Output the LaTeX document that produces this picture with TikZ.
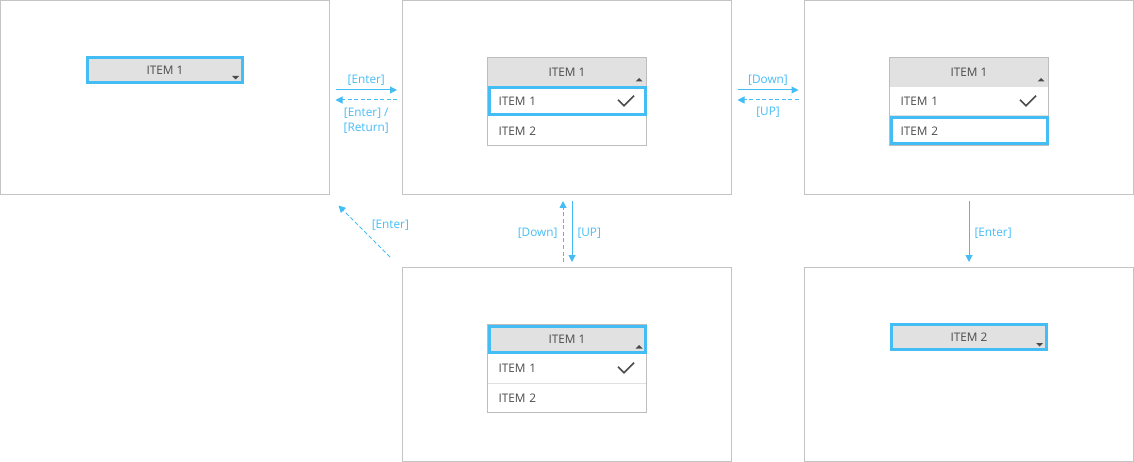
\documentclass[tikz,border=0pt]{standalone}
\usepackage{fontspec}
\setmainfont{Open Sans}
\usetikzlibrary{arrows.meta,positioning}

\definecolor{focusblue}{HTML}{44BDF5}
\definecolor{framegrey}{HTML}{C4C4C4}
\definecolor{boxgrey}{HTML}{BDBDBD}
\definecolor{linegrey}{HTML}{E0E0E0}
\definecolor{hdrgrey}{HTML}{E1E1E1}
\definecolor{itemgrey}{HTML}{4A4A4A}

\tikzset{
  screen/.style={draw=framegrey, line width=1pt, minimum width=329pt,
    minimum height=194pt, anchor=north west, inner sep=0pt, outer sep=0pt},
  combo/.style={fill=hdrgrey, draw=focusblue, line width=3pt, minimum width=155pt,
    minimum height=25pt, inner sep=0pt, outer sep=0pt, text=itemgrey,
    font=\fontsize{11.8}{13}\selectfont},
  header/.style={fill=hdrgrey, draw=boxgrey, line width=1pt, minimum width=159pt,
    minimum height=29pt, inner sep=0pt, outer sep=0pt, text=itemgrey,
    font=\fontsize{11.8}{13}\selectfont},
  listrow/.style={draw=linegrey, line width=1pt, minimum height=29.5pt,
    text width=137pt, inner xsep=11pt, inner ysep=0pt, align=left,
    outer sep=0pt, text=itemgrey, font=\fontsize{11.8}{13}\selectfont},
  focus/.style={draw=focusblue, line width=3pt},
  keylabel/.style={text=focusblue, inner sep=2pt, font=\fontsize{11.8}{14.5}\selectfont},
  go/.style={draw=focusblue, line width=1pt, -{Triangle[length=7pt,width=7pt]}},
  back/.style={go, dash pattern=on 4pt off 2.5pt},
}

% small marks inside the drop-down boxes
\newcommand{\caretup}[1]{\fill[itemgrey] ([xshift=-11pt,yshift=5pt]#1.south east)
  -- ++(7,0) -- ++(-3.5,-3.5) -- cycle;}
\newcommand{\caretdown}[1]{\fill[itemgrey] ([xshift=-10.5pt,yshift=6.5pt]#1.south east)
  -- ++(7,0) -- ++(-3.5,3.5) -- cycle;}
\newcommand{\tickmark}[1]{\draw[itemgrey, line width=1.5pt]
  ([xshift=-28.5pt,yshift=1.5pt]#1.east) -- ++(6,6) -- ++(10,-10);}

\begin{document}
\begin{tikzpicture}[x=1pt, y=-1pt]
  \useasboundingbox (0,0) rectangle (1134,462);

  % the five screens
  \foreach \nm/\x/\y in {A/0.5/0.5, B/402.5/0.5, C/804.5/0.5, D/402.5/267.5, E/804.5/267.5}
    \node[screen] (scr\nm) at (\x,\y) {};

  % closed drop-downs
  \node[combo, below=57pt of scrA.north] (cmbA) {ITEM 1};
  \caretdown{cmbA}
  \node[combo, below=57pt of scrE.north] (cmbE) {ITEM 2};
  \caretdown{cmbE}

  % open drop-downs, \hl is the focused part
  \foreach \nm/\hl in {B/row1, C/row2, D/hdr}
  {
    \node[header, below=57pt of scr\nm.north] (hdr\nm) {ITEM 1};
    \node[listrow, below=0pt of hdr\nm] (row1\nm) {ITEM 1};
    \node[listrow, below=0pt of row1\nm] (row2\nm) {ITEM 2};
    \draw[boxgrey, line width=1pt] (hdr\nm.north west) rectangle (row2\nm.south east);
    \caretup{hdr\nm}
    \tickmark{row1\nm}
    \draw[focus] ([shift={(1.5,1.5)}]\hl\nm.north west)
      rectangle ([shift={(-1.5,-1.5)}]\hl\nm.south east);
  }

  % key transitions
  \draw[go] ([xshift=6pt,yshift=7.5pt]scrA.east)
    -- node[keylabel, above=2pt] {[Enter]} ([xshift=-5.5pt,yshift=7.5pt]scrB.west);
  \draw[back] ([xshift=-5.5pt,yshift=-2.5pt]scrB.west)
    -- node[keylabel, below=6pt, align=center] {[Enter] /\\{}[Return]} ([xshift=6pt,yshift=-2.5pt]scrA.east);
  \draw[go] ([xshift=6pt,yshift=7.5pt]scrB.east)
    -- node[keylabel, above=2pt] {[Down]} ([xshift=-6pt,yshift=7.5pt]scrC.west);
  \draw[back] ([xshift=-6pt,yshift=-2.5pt]scrC.west)
    -- node[keylabel, below=5pt] {[UP]} ([xshift=6pt,yshift=-2.5pt]scrB.east);
  \draw[back] ([xshift=-4pt,yshift=5.5pt]scrD.north)
    -- node[keylabel, left=3pt, yshift=-1.5pt] {[Down]} ([xshift=-4pt,yshift=-6.5pt]scrB.south);
  \draw[go] ([xshift=5pt,yshift=-6.5pt]scrB.south)
    -- node[keylabel, right=3pt, yshift=-1.5pt] {[UP]} ([xshift=5pt,yshift=5.5pt]scrD.north);
  \draw[go] ([yshift=-6.5pt]scrC.south)
    -- node[keylabel, right=3pt, yshift=-1.5pt] {[Enter]} ([yshift=5.5pt]scrE.north);
  \draw[back] ([xshift=-12.5pt,yshift=10.5pt]scrD.north west)
    -- node[keylabel, pos=0.5, anchor=west, xshift=5pt, yshift=6pt] {[Enter]} ([xshift=9pt,yshift=-11pt]scrA.south east);
\end{tikzpicture}
\end{document}
